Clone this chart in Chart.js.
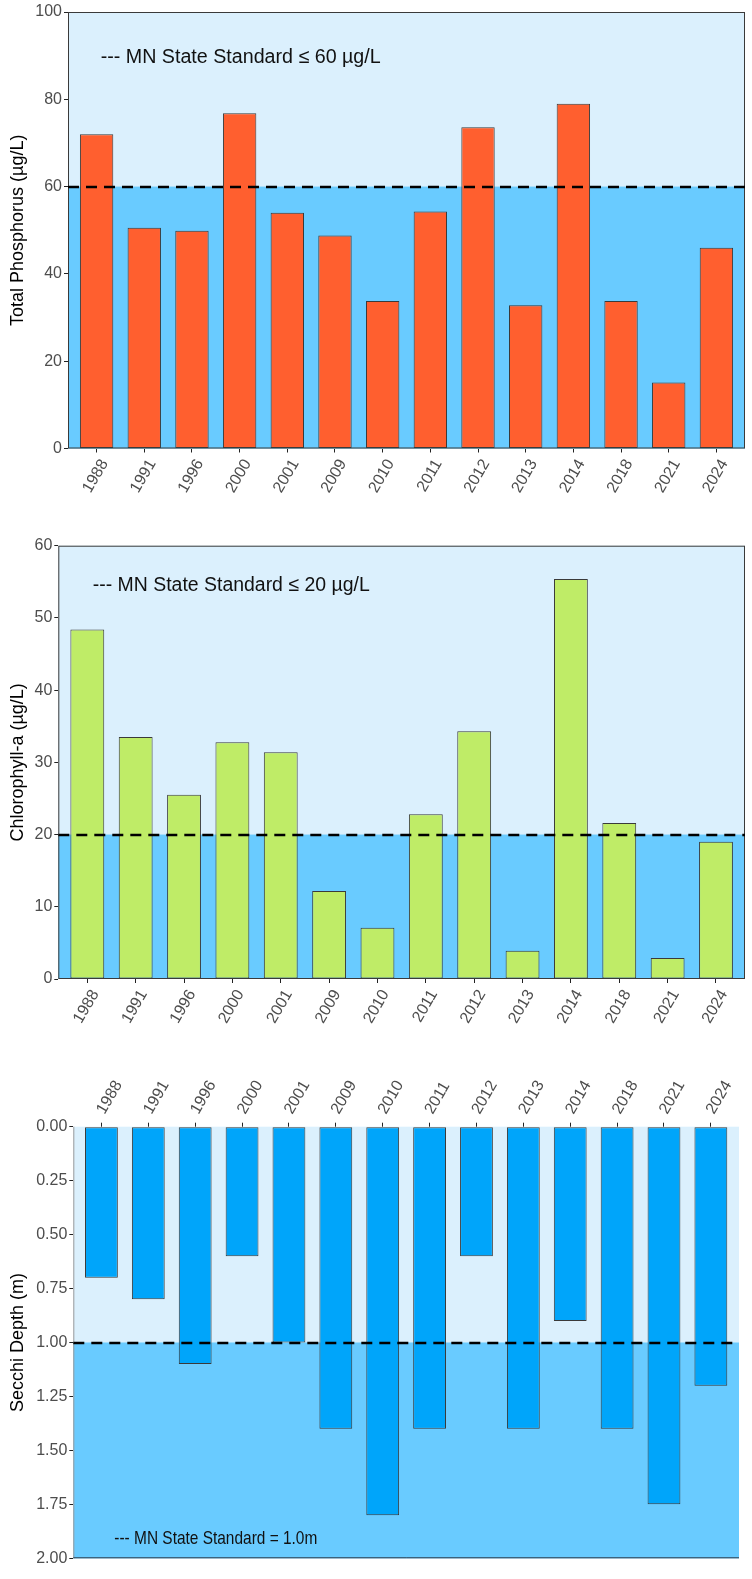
<!DOCTYPE html>
<html>
<head>
<meta charset="utf-8">
<script src="https://cdn.jsdelivr.net/npm/chart.js@4/dist/chart.umd.min.js"></script>
<style>
  html, body { margin: 0; padding: 0; background: #fff; }
  #wrap { position: relative; width: 752px; height: 1579px; }
  canvas { position: absolute; left: 0; }
</style>
</head>
<body>
<div id="wrap">
  <canvas id="tp" width="752" height="525" style="top:0px"></canvas>
  <canvas id="chl" width="752" height="520" style="top:525px"></canvas>
  <canvas id="sd" width="752" height="534" style="top:1045px"></canvas>
</div>
<script>
// Sampling years shared by all three panels
const years = ['1988', '1991', '1996', '2000', '2001', '2009', '2010', '2011', '2012', '2013', '2014', '2018', '2021', '2024'];

// Summer means per year
const phosphorus = [72.0, 50.6, 49.9, 76.8, 54.0, 48.8, 33.8, 54.3, 73.6, 32.8, 79.0, 33.8, 15.1, 46.0];   // µg/L
const chlorophyll = [48.4, 33.5, 25.5, 32.8, 31.4, 12.2, 7.1, 22.8, 34.3, 3.9, 55.4, 21.6, 2.9, 19.0];    // µg/L
const secchi = [0.7, 0.8, 1.1, 0.6, 1.0, 1.4, 1.8, 1.4, 0.6, 1.4, 0.9, 1.4, 1.75, 1.2];                   // m

// State standards
const phosphorusStandard = 60;
const chlorophyllStandard = 20;
const secchiStandard = 1.0;

// Axis ticks
const phosphorusTicks = [0, 20, 40, 60, 80, 100];
const chlorophyllTicks = [0, 10, 20, 30, 40, 50, 60];
const secchiTicks = [0, 0.25, 0.5, 0.75, 1.0, 1.25, 1.5, 1.75, 2.0];

const FONT = "'Liberation Sans', Arial, Helvetica, sans-serif";
Chart.defaults.font.family = FONT;

const LIGHT = '#DBF0FD';
const DEEP = '#69CBFF';
const TICK_COLOR = '#4D4D4D';

// Shaded panel with a dashed standard line and a caption
const panelPlugin = {
  id: 'panel',
  beforeDatasetsDraw(chart, args, o) {
    const { ctx, chartArea: a } = chart;
    const y = chart.scales.y;
    const yt = y.getPixelForValue(o.threshold);
    ctx.save();
    ctx.fillStyle = LIGHT;
    ctx.fillRect(a.left, a.top, a.width, a.height);
    ctx.fillStyle = DEEP;
    ctx.fillRect(a.left, yt, a.width, a.bottom - yt);
    ctx.restore();
  },
  afterDatasetsDraw(chart, args, o) {
    const { ctx, chartArea: a } = chart;
    const y = chart.scales.y;
    const yt = Math.round(y.getPixelForValue(o.threshold));
    ctx.save();
    // frame
    ctx.lineWidth = 1;
    if (o.fullFrame) {
      ctx.strokeStyle = '#3a3a3a';
      ctx.strokeRect(a.left + 0.5, a.top + 0.5, a.width - 1, a.height - 1);
    } else {
      ctx.strokeStyle = '#9a9a9a';
      ctx.beginPath();
      ctx.moveTo(a.left + 0.5, a.top);
      ctx.lineTo(a.left + 0.5, a.bottom);
      ctx.stroke();
      ctx.strokeStyle = '#2a3a4a';
      ctx.beginPath();
      ctx.moveTo(a.left, a.bottom - 0.5);
      ctx.lineTo(a.right, a.bottom - 0.5);
      ctx.stroke();
    }
    // standard line
    ctx.strokeStyle = '#000';
    ctx.lineWidth = 2.6;
    ctx.setLineDash([11, 7]);
    ctx.beginPath();
    ctx.moveTo(a.left, yt);
    ctx.lineTo(a.right, yt);
    ctx.stroke();
    ctx.setLineDash([]);
    // caption
    ctx.fillStyle = '#111';
    ctx.font = o.fontSize + 'px ' + FONT;
    ctx.textAlign = 'left';
    ctx.textBaseline = 'alphabetic';
    ctx.fillText(o.text, a.left + o.dx, a.top + o.dy, o.maxWidth);
    ctx.restore();
  }
};

function yearAxis(position, height) {
  const top = position === 'top';
  return {
    type: 'linear',
    position: position,
    offset: false,
    min: -0.6,
    max: years.length - 0.4,
    afterBuildTicks: s => { s.ticks = years.map((_, i) => ({ value: i })); },
    ticks: {
      autoSkip: false,
      minRotation: 60,
      maxRotation: 60,
      color: TICK_COLOR,
      font: { size: 16 },
      padding: top ? 5 : 3.5,
      labelOffset: top ? 16 : 8,
      callback: v => years[v]
    },
    grid: { offset: false, drawOnChartArea: false, drawTicks: true, tickLength: 4, color: '#222', lineWidth: 1 },
    border: { display: false },
    afterFit: s => { s.height = height; }
  };
}

function valueAxis(cfg) {
  return {
    type: 'linear',
    position: 'left',
    min: cfg.min,
    max: cfg.max,
    reverse: !!cfg.reverse,
    afterBuildTicks: s => { s.ticks = cfg.ticks.map(v => ({ value: v })); },
    ticks: {
      color: TICK_COLOR,
      font: { size: 16 },
      padding: 2,
      callback: cfg.format
    },
    grid: { drawOnChartArea: false, drawTicks: true, tickLength: 4, color: '#222', lineWidth: 1 },
    border: { display: false },
    title: {
      display: true,
      text: cfg.title,
      color: '#000',
      font: { size: 18 },
      padding: { top: 7.5, bottom: 0 }
    },
    afterFit: s => { s.width = cfg.width; }
  };
}

function makeChart(id, values, color, xAxis, yAxis, padding, panel) {
  return new Chart(document.getElementById(id), {
    type: 'bar',
    data: {
      datasets: [{
        data: values.map((v, i) => ({ x: i, y: v })),
        backgroundColor: color,
        borderColor: '#3a3a3a',
        borderWidth: 1,
        borderSkipped: false,
        barPercentage: 0.7,
        categoryPercentage: 1.0
      }]
    },
    options: {
      responsive: false,
      animation: false,
      devicePixelRatio: 1,
      layout: { padding: padding },
      plugins: { legend: { display: false }, tooltip: { enabled: false }, panel: panel },
      scales: { x: xAxis, y: yAxis }
    },
    plugins: [panelPlugin]
  });
}

// Total phosphorus
makeChart('tp', phosphorus, '#FF5F2F',
  yearAxis('bottom', 76.5),
  valueAxis({ min: 0, max: 100, ticks: phosphorusTicks, title: 'Total Phosphorus (µg/L)', width: 68, format: v => String(v) }),
  { top: 12, right: 7, bottom: 0, left: 0 },
  { threshold: phosphorusStandard, fullFrame: true, text: '--- MN State Standard \u2264 60 \u00b5g/L', dx: 32.7, dy: 51.3, fontSize: 20, maxWidth: 280 });

// Chlorophyll-a
makeChart('chl', chlorophyll, '#BFEC67',
  yearAxis('bottom', 66),
  valueAxis({ min: 0, max: 60, ticks: chlorophyllTicks, title: 'Chlorophyll-a (µg/L)', width: 58.3, format: v => String(v) }),
  { top: 20.7, right: 7, bottom: 0, left: 0 },
  { threshold: chlorophyllStandard, fullFrame: true, text: '--- MN State Standard \u2264 20 \u00b5g/L', dx: 34.4, dy: 45, fontSize: 20, maxWidth: 277 });

// Secchi depth (depth increases downward)
makeChart('sd', secchi, '#00A5FA',
  yearAxis('top', 81.7),
  valueAxis({ min: 0, max: 2, reverse: true, ticks: secchiTicks, title: 'Secchi Depth (m)', width: 73.3, format: v => v.toFixed(2) }),
  { top: 0, right: 13, bottom: 20.7, left: 0 },
  { threshold: secchiStandard, fullFrame: false, text: '--- MN State Standard = 1.0m', dx: 41, dy: 417.6, fontSize: 19, maxWidth: 203 });
</script>
</body>
</html>
